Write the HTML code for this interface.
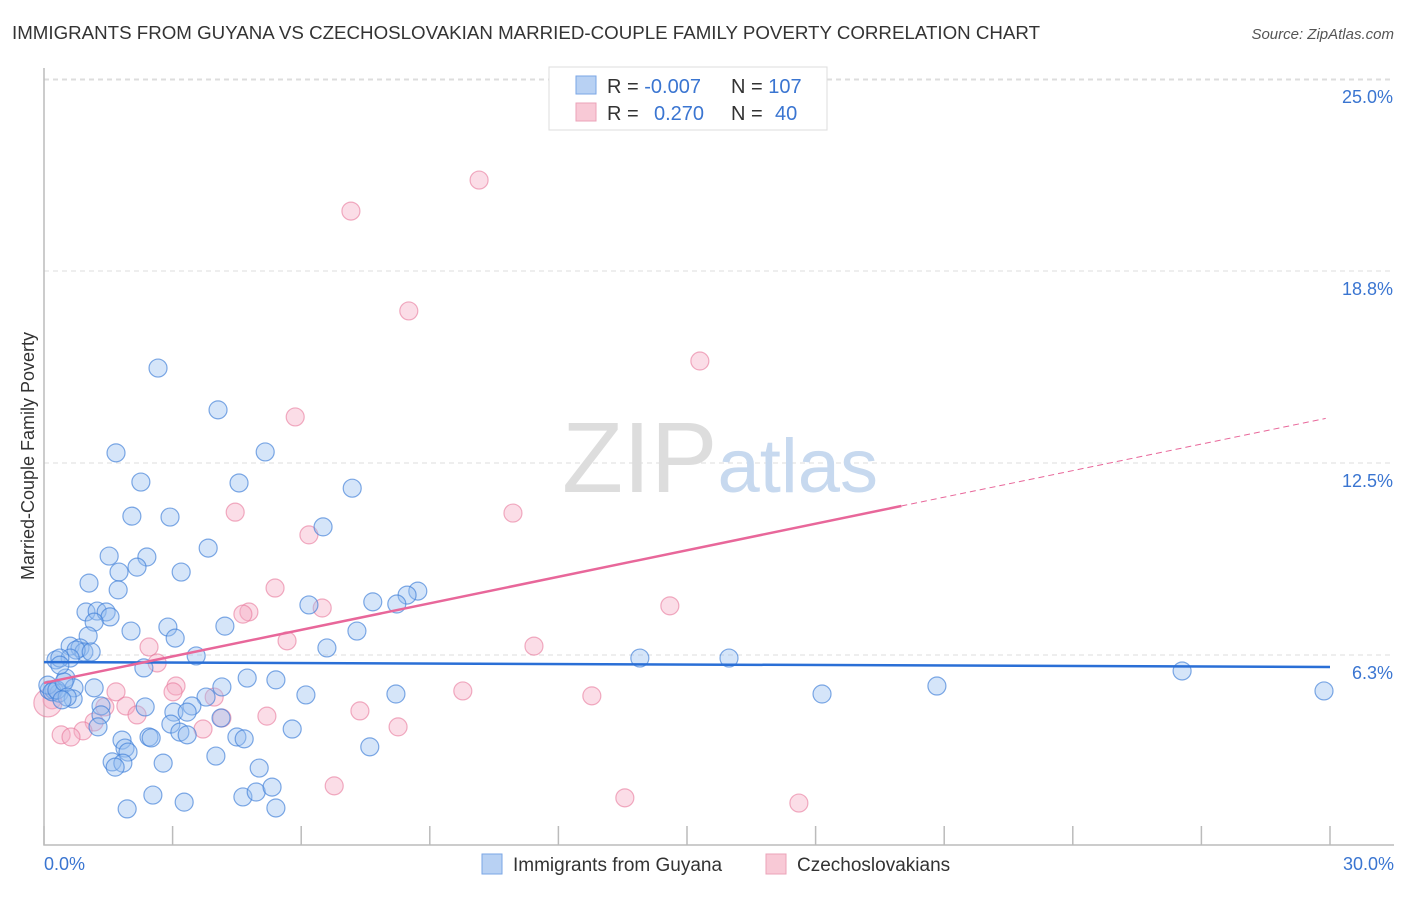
<!DOCTYPE html>
<html><head><meta charset="utf-8"><style>
body{margin:0;background:#fff;font-family:"Liberation Sans",sans-serif;}
svg text{font-family:"Liberation Sans",sans-serif;}
</style></head><body>
<svg id="chart" width="1406" height="892" xmlns="http://www.w3.org/2000/svg">
<text x="12" y="39" font-size="18" fill="#333" textLength="1028" lengthAdjust="spacingAndGlyphs">IMMIGRANTS FROM GUYANA VS CZECHOSLOVAKIAN MARRIED-COUPLE FAMILY POVERTY CORRELATION CHART</text>
<text x="1394" y="39" font-size="15" fill="#555" text-anchor="end" font-style="italic">Source: ZipAtlas.com</text>
<g id="grid"></g>
<text x="720" y="492" font-size="100" text-anchor="middle" fill="#ddd" font-family="Liberation Serif"><tspan>ZIP</tspan><tspan fill="#c7d9ef" font-family="Liberation Sans" font-size="76">atlas</tspan></text>
<g id="pts"></g>
<g id="lines"></g>
<text transform="translate(34,456) rotate(-90)" font-size="18" fill="#333" text-anchor="middle">Married-Couple Family Poverty</text>
<text x="44" y="870" font-size="18" fill="#3a75d1">0.0%</text>
<text x="1394" y="870" font-size="18" fill="#3a75d1" text-anchor="end">30.0%</text>
<g>
<rect x="549" y="67" width="278" height="63" fill="#fff" stroke="#ddd"/>
<rect x="576" y="76" width="20" height="18" fill="#b8d1f3" stroke="#7aa6e6"/>
<rect x="576" y="103" width="20" height="18" fill="#f8c9d6" stroke="#eba3b8"/>
<text x="607" y="93" font-size="20" fill="#333">R = <tspan fill="#3a75d1">-0.007</tspan></text>
<text x="731" y="93" font-size="20" fill="#333">N = <tspan fill="#3a75d1">107</tspan></text>
<text x="607" y="120" font-size="20" fill="#333">R = <tspan fill="#3a75d1" x="654">0.270</tspan></text>
<text x="731" y="120" font-size="20" fill="#333">N = <tspan fill="#3a75d1" x="775">40</tspan></text>
</g>
<g>
<rect x="482" y="854" width="20" height="20" fill="#b8d1f3" stroke="#7aa6e6"/>
<text x="513" y="871" font-size="19" fill="#333">Immigrants from Guyana</text>
<rect x="766" y="854" width="20" height="20" fill="#f8c9d6" stroke="#eba3b8"/>
<text x="797" y="871" font-size="19" fill="#333">Czechoslovakians</text>
</g>
</svg>
<script>
const yTicks=[25,18.75,12.5,6.25];
const yTickLabels=["25.0%","18.8%","12.5%","6.3%"];
const xTicks=[0,3,6,9,12,15,18,21,24,27,30];
const blueX=[2.66,4.06,1.68,5.16,2.26,4.55,7.19,2.05,2.94,6.51,3.83,1.52,2.40,2.17,1.75,3.20,1.05,1.73,8.72,8.47,0.98,1.24,1.45,1.54,1.17,6.18,7.67,8.23,2.89,4.22,2.03,3.06,1.03,7.30,0.61,0.84,0.93,0.75,6.60,0.28,0.61,1.10,0.37,3.55,13.90,15.98,2.33,26.55,0.51,0.12,0.23,0.35,0.70,1.17,4.74,5.41,4.15,6.11,8.21,18.15,20.83,29.86,0.68,3.78,3.45,1.33,2.36,1.33,3.03,3.34,4.13,2.96,3.17,1.26,3.34,4.50,4.67,2.45,2.50,1.82,5.79,7.60,1.89,1.96,4.01,1.59,1.84,2.78,1.66,5.02,2.54,3.27,4.64,4.95,5.32,5.41,1.94,0.09,0.19,0.30,0.47,0.54,0.42,0.37];
const blueY=[15.59,14.23,12.83,12.86,11.88,11.85,11.68,10.77,10.74,10.42,9.73,9.47,9.44,9.11,8.95,8.95,8.59,8.37,8.33,8.20,7.65,7.68,7.65,7.49,7.32,7.88,7.98,7.91,7.16,7.19,7.03,6.80,6.87,7.03,6.54,6.48,6.35,6.41,6.48,6.09,6.15,6.35,6.15,6.22,6.15,6.15,5.83,5.73,5.50,5.11,5.11,5.01,5.18,5.18,5.50,5.44,5.21,4.95,4.98,4.98,5.24,5.08,4.82,4.88,4.59,4.59,4.56,4.30,4.39,4.39,4.20,4.00,3.74,3.91,3.65,3.58,3.52,3.58,3.55,3.48,3.84,3.26,3.22,3.09,2.96,2.77,2.73,2.73,2.60,2.57,1.69,1.46,1.63,1.79,1.95,1.27,1.24,5.27,5.05,5.11,5.37,4.88,4.79,5.92];
const pinkX=[10.15,7.16,8.51,15.30,5.86,4.46,10.94,6.18,5.39,14.60,4.78,6.49,4.64,11.43,5.67,2.45,2.64,3.08,3.01,9.77,12.78,3.97,1.68,1.91,1.42,7.37,2.17,4.15,5.20,1.17,8.26,3.71,0.91,0.40,0.63,6.77,13.55,17.61,0.19,0.09];
const pinkY=[21.71,20.70,17.45,15.82,14.00,10.90,10.87,10.16,8.43,7.85,7.65,7.78,7.58,6.54,6.71,6.51,5.99,5.24,5.05,5.08,4.92,4.88,5.05,4.59,4.56,4.43,4.30,4.20,4.26,4.07,3.91,3.84,3.78,3.65,3.58,1.99,1.60,1.43,4.79,4.69];
const blueTrend=[6.02,5.86];
const pinkTrend=[5.34,0.288];
const X0=44,X1=1330,YB=847,PPU=192/6.25;
const sx=v=>X0+(X1-X0)*v/30;
const sy=v=>YB-v*PPU;
const NS="http://www.w3.org/2000/svg";
function mk(tag,attrs,parent){const e=document.createElementNS(NS,tag);for(const k in attrs)e.setAttribute(k,attrs[k]);parent.appendChild(e);return e;}
const grid=document.getElementById('grid');
mk('line',{x1:44,y1:80,x2:1394,y2:80,stroke:'#ddd','stroke-dasharray':'5,4'},grid);
yTicks.forEach((t,i)=>{
 const l=mk('line',{x1:44,y1:sy(t),x2:1394,y2:sy(t),stroke:'#ddd','stroke-dasharray':'5,4'},grid);
 
 
 const tx=mk('text',{x:1393,y:sy(t)+24,'font-size':18,fill:'#3a75d1','text-anchor':'end'},grid);
 tx.textContent=yTickLabels[i];
 
 
});
const ax=mk('path',{d:'M44 68 V845 H1394',fill:'none',stroke:'#bbb','stroke-width':1.5},grid);


xTicks.forEach(t=>{
 const l=mk('line',{x1:sx(t),y1:826,x2:sx(t),y2:845,stroke:'#bbb','stroke-width':1.5},grid);
 
 
});
const pts=document.getElementById('pts');
pinkX.forEach((x,i)=>{
 const c=mk('circle',{cx:sx(x),cy:sy(pinkY[i]),r:(i==39?14:9),fill:'rgba(246,170,195,0.4)',stroke:'rgba(232,120,155,0.6)','stroke-width':1.2},pts);
 
 
});
blueX.forEach((x,i)=>{
 const c=mk('circle',{cx:sx(x),cy:sy(blueY[i]),r:9,fill:'rgba(150,190,240,0.4)',stroke:'rgba(60,125,215,0.65)','stroke-width':1.2},pts);
 
 
});
const lines=document.getElementById('lines');
const bl=mk('line',{x1:sx(0),y1:sy(blueTrend[0]),x2:sx(30),y2:sy(blueTrend[1]),stroke:'#2a6fd6','stroke-width':2.5},lines);


const pf=x=>pinkTrend[0]+pinkTrend[1]*x;
const pl=mk('line',{x1:sx(0),y1:sy(pf(0)),x2:sx(20),y2:sy(pf(20)),stroke:'#e8679a','stroke-width':2.5},lines);


const pd=mk('line',{x1:sx(20),y1:sy(pf(20)),x2:sx(29.9),y2:sy(pf(29.9)),stroke:'#e8679a','stroke-width':1,'stroke-dasharray':'6,4'},lines);


</script>
</body></html>
